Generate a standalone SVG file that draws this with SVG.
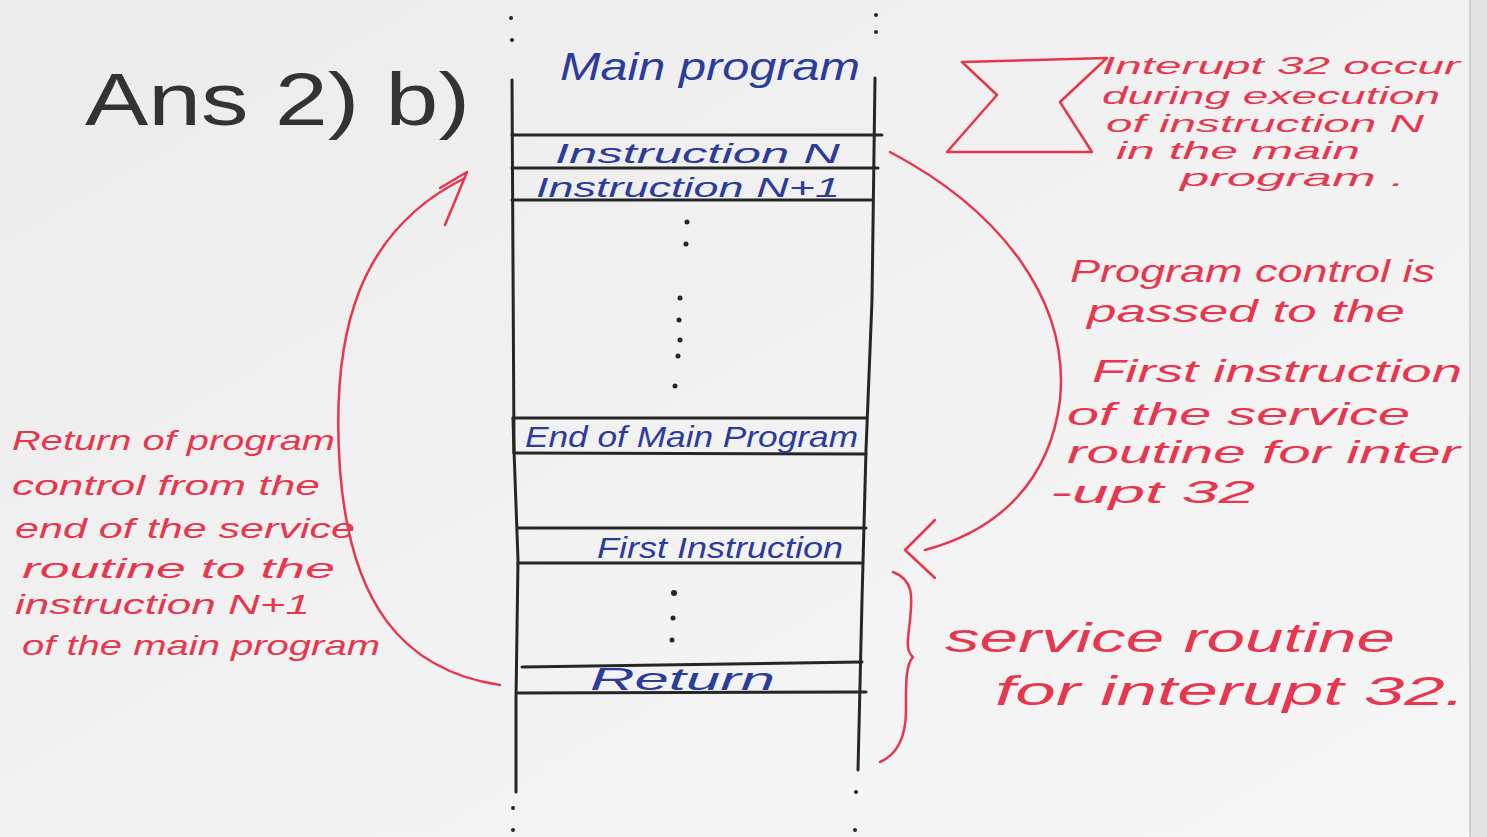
<svg xmlns="http://www.w3.org/2000/svg" width="1487" height="837" viewBox="0 0 1487 837">
<defs>
<linearGradient id="bg" x1="0" y1="0" x2="1" y2="1">
<stop offset="0" stop-color="#ececec"/>
<stop offset="0.6" stop-color="#f3f3f3"/>
<stop offset="1" stop-color="#f6f6f6"/>
</linearGradient>
<style>
.ink{stroke:#262626;stroke-width:3;fill:none;stroke-linecap:round}
.red{stroke:#e8364e;stroke-width:2.5;fill:none;stroke-linecap:round;stroke-linejoin:round}
.blue{font-family:"Liberation Sans",sans-serif;font-style:italic;fill:#2c3c9c}
.rt{font-family:"Liberation Sans",sans-serif;font-style:italic;fill:#e8364e}
.dot{fill:#262626}
</style>
</defs>
<rect width="1487" height="837" fill="url(#bg)"/>
<rect x="1470" y="0" width="17" height="837" fill="#e4e4e4"/>
<line x1="1470" y1="0" x2="1470" y2="837" stroke="#cfcfcf" stroke-width="2"/>

<g id="title">
<text x="85" y="125" font-family="Liberation Sans,sans-serif" font-size="74" fill="#333" textLength="385" lengthAdjust="spacingAndGlyphs">Ans 2) b)</text>
</g>

<g id="column">
<path class="ink" d="M512 80 L514 450 L518 560 L516 700 L516 792"/>
<path class="ink" d="M875 78 L872 300 L866 450 L862 600 L858 770"/>
<circle class="dot" cx="511" cy="18" r="2"/><circle class="dot" cx="512" cy="40" r="2"/>
<circle class="dot" cx="876" cy="15" r="2"/><circle class="dot" cx="876" cy="32" r="2"/>
<circle class="dot" cx="513" cy="808" r="2"/><circle class="dot" cx="513" cy="830" r="2"/>
<circle class="dot" cx="856" cy="792" r="2"/><circle class="dot" cx="855" cy="830" r="2"/>
<text class="blue" x="560" y="80" font-size="38" textLength="300" lengthAdjust="spacingAndGlyphs">Main program</text>
<circle class="dot" cx="687" cy="222" r="2.5"/><circle class="dot" cx="686" cy="244" r="2.5"/>
<circle class="dot" cx="680" cy="298" r="2.5"/><circle class="dot" cx="679" cy="320" r="2.5"/>
<circle class="dot" cx="680" cy="340" r="2.5"/><circle class="dot" cx="678" cy="356" r="2.5"/>
<circle class="dot" cx="675" cy="386" r="2.5"/>
</g>

<g id="instr-n">
<line class="ink" x1="512" y1="135" x2="882" y2="135"/>
<line class="ink" x1="512" y1="168" x2="878" y2="168"/>
<text class="blue" x="555" y="163" font-size="28" textLength="285" lengthAdjust="spacingAndGlyphs">Instruction N</text>
</g>
<g id="instr-n1">
<line class="ink" x1="512" y1="200" x2="872" y2="200"/>
<text class="blue" x="536" y="197" font-size="28" textLength="304" lengthAdjust="spacingAndGlyphs">Instruction N+1</text>
</g>
<g id="end-main">
<line class="ink" x1="513" y1="418" x2="866" y2="418"/>
<line class="ink" x1="514" y1="453" x2="866" y2="454"/>
<line class="ink" x1="513" y1="418" x2="514" y2="453"/>
<text class="blue" x="525" y="447" font-size="30" textLength="333" lengthAdjust="spacingAndGlyphs">End of Main Program</text>
</g>
<g id="first-instr">
<line class="ink" x1="518" y1="528" x2="866" y2="528"/>
<line class="ink" x1="518" y1="563" x2="862" y2="563"/>
<text class="blue" x="597" y="558" font-size="30" textLength="246" lengthAdjust="spacingAndGlyphs">First Instruction</text>
<circle class="dot" cx="674" cy="593" r="3"/><circle class="dot" cx="673" cy="618" r="2.5"/><circle class="dot" cx="672" cy="640" r="2.5"/>
</g>
<g id="return">
<line class="ink" x1="522" y1="667" x2="862" y2="662"/>
<line class="ink" x1="518" y1="693" x2="866" y2="692"/>
<text class="blue" x="590" y="690" font-size="32" textLength="185" lengthAdjust="spacingAndGlyphs">Return</text>
</g>

<g id="connectors">
<path class="red" d="M890 152 C1000 210 1070 300 1060 400 C1050 480 1000 530 925 550"/>
<path class="red" d="M935 520 L905 550 L935 578"/>
<path class="red" d="M500 685 C400 670 350 600 340 470 C330 330 360 230 465 178"/>
<path class="red" d="M440 188 L467 172 L445 225"/>
</g>

<g id="interrupt-note">
<path class="red" d="M962 62 L1107 58 L1060 102 L1092 152 L947 152 L997 95 Z"/>
<text class="rt" font-size="24">
<tspan x="1102" y="74" textLength="358" lengthAdjust="spacingAndGlyphs">Interupt 32 occur</tspan>
<tspan x="1102" y="104" textLength="338" lengthAdjust="spacingAndGlyphs">during execution</tspan>
<tspan x="1106" y="132" textLength="318" lengthAdjust="spacingAndGlyphs">of instruction N</tspan>
<tspan x="1116" y="159" textLength="244" lengthAdjust="spacingAndGlyphs">in the main</tspan>
<tspan x="1180" y="186" textLength="225" lengthAdjust="spacingAndGlyphs">program .</tspan>
</text>
</g>

<g id="pass-note">
<text class="rt" font-size="32">
<tspan x="1070" y="282" textLength="365" lengthAdjust="spacingAndGlyphs">Program control is</tspan>
<tspan x="1087" y="322" textLength="318" lengthAdjust="spacingAndGlyphs">passed to the</tspan>
<tspan x="1092" y="382" textLength="370" lengthAdjust="spacingAndGlyphs">First instruction</tspan>
<tspan x="1067" y="425" textLength="343" lengthAdjust="spacingAndGlyphs">of the service</tspan>
<tspan x="1067" y="463" textLength="393" lengthAdjust="spacingAndGlyphs">routine for inter</tspan>
<tspan x="1050" y="503" textLength="205" lengthAdjust="spacingAndGlyphs">-upt 32</tspan>
</text>
</g>

<g id="return-note">
<text class="rt" font-size="28">
<tspan x="12" y="450" textLength="323" lengthAdjust="spacingAndGlyphs">Return of program</tspan>
<tspan x="12" y="495" textLength="308" lengthAdjust="spacingAndGlyphs">control from the</tspan>
<tspan x="15" y="538" textLength="340" lengthAdjust="spacingAndGlyphs">end of the service</tspan>
<tspan x="22" y="578" textLength="313" lengthAdjust="spacingAndGlyphs">routine to the</tspan>
<tspan x="15" y="614" textLength="295" lengthAdjust="spacingAndGlyphs">instruction N+1</tspan>
<tspan x="22" y="655" textLength="358" lengthAdjust="spacingAndGlyphs">of the main program</tspan>
</text>
</g>

<g id="service-brace">
<path class="red" d="M893 572 C915 580 912 600 910 620 C908 640 905 650 913 657 C905 665 906 690 906 710 C906 740 896 755 880 762"/>
<text class="rt" font-size="40">
<tspan x="945" y="652" textLength="450" lengthAdjust="spacingAndGlyphs">service routine</tspan>
<tspan x="995" y="705" textLength="470" lengthAdjust="spacingAndGlyphs">for interupt 32.</tspan>
</text>
</g>
</svg>
